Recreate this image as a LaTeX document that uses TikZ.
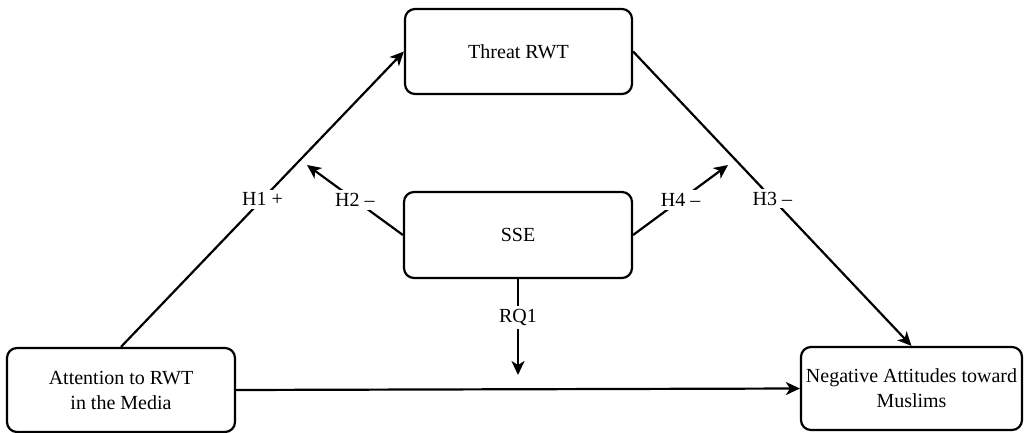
\documentclass[tikz,border=0pt]{standalone}
\usepackage{fontspec}
\setmainfont{Liberation Serif}
\usetikzlibrary{arrows.meta}
\begin{document}
\begin{tikzpicture}[x=1pt,y=-1pt,
  box/.style={draw, line width=2.2pt, rounded corners=10pt, minimum width=228pt, minimum height=85pt, align=center, font=\fontsize{20}{25}\selectfont, inner sep=0pt},
  conn/.style={line width=2.2pt},
  arr/.style={conn, -{Stealth[length=14pt,width=13pt,inset=4pt]}},
  lbl/.style={font=\fontsize{20}{23}\selectfont, fill=white, inner sep=3pt}]
\useasboundingbox (0,0) rectangle (1027,433);
\node[box, minimum width=227pt] (threat) at (518.5,51.5) {Threat RWT};
\node[box, minimum height=86pt] (sse) at (518,235) {SSE};
\node[box, minimum height=84pt] (att) at (121,390) {Attention to RWT\\in the Media};
\node[box, minimum width=221pt, minimum height=83pt] (neg) at (911.5,388.5) {Negative Attitudes toward\\Muslims};
\coordinate (h2end) at (307,165);
\coordinate (h4end) at (728,165);
\coordinate (rqend) at (518,375);
\draw[arr] (att.north) -- node[lbl]{H1 +} (threat.west);
\draw[arr] (threat.east) -- node[lbl]{H3 --} (neg.north);
\draw[arr] (att.east) -- (neg.west);
\draw[arr] (sse.west) -- node[lbl]{H2 --} (h2end);
\draw[arr] (sse.east) -- node[lbl]{H4 --} (h4end);
\draw[arr] (sse.south) -- node[lbl, pos=0.4]{RQ1} (rqend);
\end{tikzpicture}
\end{document}
